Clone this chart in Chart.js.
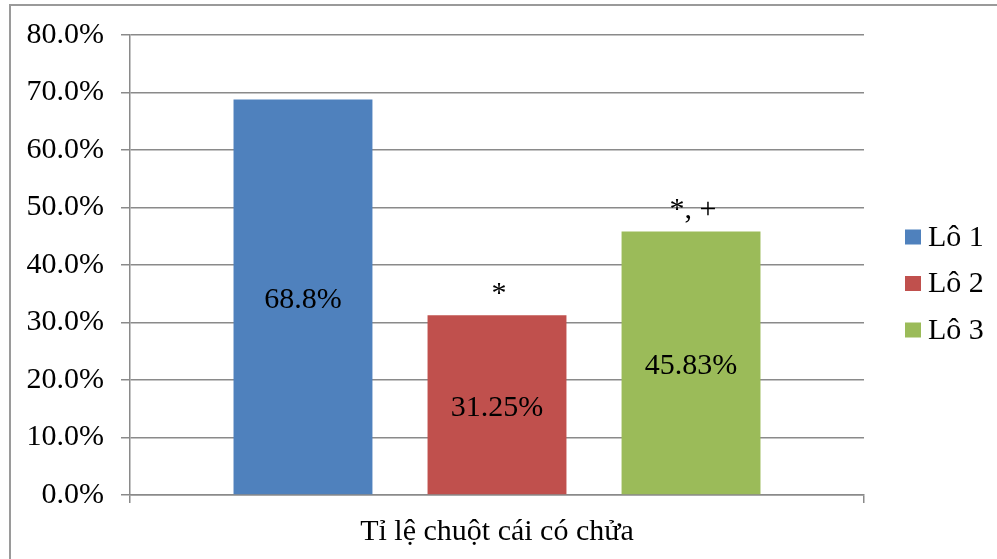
<!DOCTYPE html>
<html>
<head>
<meta charset="utf-8">
<title>Tỉ lệ chuột cái có chửa</title>
<script src="https://cdn.jsdelivr.net/npm/chart.js@4"></script>
<style>
  html, body { margin: 0; padding: 0; background: #fff; }
  #wrap { width: 997px; height: 559px; position: relative; }
</style>
</head>
<body>
<div id="wrap"><canvas id="c" width="997" height="559"></canvas></div>
<script>
// Category, groups and their rates (%)
const categories = ['Tỉ lệ chuột cái có chửa'];
const groups = ['Lô 1', 'Lô 2', 'Lô 3'];
const rates = [68.8, 31.25, 45.83];
// Significance marks written above each bar
const marks = ['', '*', '*, +'];
// Y axis ticks (%)
const yTicks = [0, 10, 20, 30, 40, 50, 60, 70, 80];

const colors = ['#4F81BD', '#C0504D', '#9BBB59'];
const FONT = '"Liberation Serif", "Times New Roman", serif';
const FS = 30;

const datasets = groups.map((g, i) => ({
  label: g,
  data: [rates[i]],
  backgroundColor: colors[i],
  borderWidth: 0,
  barPercentage: 0.716,
  categoryPercentage: 0.793
}));

// Outer frame of the chart
const framePlugin = {
  id: 'frame',
  beforeDraw(chart) {
    const ctx = chart.ctx;
    ctx.save();
    ctx.fillStyle = '#fff';
    ctx.fillRect(0, 0, chart.width, chart.height);
    ctx.strokeStyle = '#9a9a9a';
    ctx.lineWidth = 2;
    ctx.beginPath();
    ctx.moveTo(10, chart.height + 2);
    ctx.lineTo(10, 5);
    ctx.lineTo(chart.width + 2, 5);
    ctx.stroke();
    ctx.restore();
  }
};

// Value labels in the middle of each bar and marks above
const labelPlugin = {
  id: 'barLabels',
  afterDatasetsDraw(chart) {
    const ctx = chart.ctx;
    ctx.save();
    ctx.fillStyle = '#000';
    ctx.font = FS + 'px ' + FONT;
    ctx.textAlign = 'center';
    chart.data.datasets.forEach((ds, i) => {
      const bar = chart.getDatasetMeta(i).data[0];
      const v = ds.data[0];
      ctx.textBaseline = 'middle';
      ctx.fillText(String(v) + '%', bar.x, (bar.y + bar.base) / 2 + 3);
      if (marks[i]) {
        ctx.textBaseline = 'alphabetic';
        ctx.fillText(marks[i], bar.x + 2, bar.y - 13);
      }
    });
    ctx.restore();
  }
};

// Legend on the right side
const legendPlugin = {
  id: 'sideLegend',
  afterDraw(chart) {
    const ctx = chart.ctx;
    const area = chart.chartArea;
    ctx.save();
    ctx.font = FS + 'px ' + FONT;
    ctx.textBaseline = 'middle';
    ctx.textAlign = 'left';
    const x0 = area.right + 41;
    const y0 = 237;
    const step = 46.5;
    chart.data.datasets.forEach((ds, i) => {
      const y = y0 + i * step;
      ctx.fillStyle = ds.backgroundColor;
      ctx.fillRect(x0, y - 7.5, 16, 15);
      ctx.fillStyle = '#000';
      ctx.fillText(ds.label, x0 + 23, y + 1);
    });
    ctx.restore();
  }
};

new Chart(document.getElementById('c'), {
  type: 'bar',
  data: { labels: categories, datasets },
  plugins: [framePlugin, labelPlugin, legendPlugin],
  options: {
    responsive: false,
    animation: false,
    layout: { padding: { left: 10, right: 133, top: 34, bottom: 0 } },
    plugins: {
      legend: { display: false },
      tooltip: { enabled: false }
    },
    scales: {
      x: {
        grid: {
          offset: true,
          drawOnChartArea: false,
          drawTicks: true,
          tickLength: 8,
          color: '#8a8a8a',
          lineWidth: 1.5
        },
        border: { display: true, color: '#8a8a8a', width: 1.5 },
        ticks: {
          color: '#000',
          font: { family: FONT, size: FS },
          padding: 11
        },
        afterFit(scale) { scale.height = 64; }
      },
      y: {
        min: 0,
        max: 80,
        afterBuildTicks(scale) { scale.ticks = yTicks.map(v => ({ value: v })); },
        grid: {
          color: '#8a8a8a',
          lineWidth: 1.5,
          tickLength: 9
        },
        border: { display: true, color: '#8a8a8a', width: 1.5 },
        ticks: {
          color: '#000',
          font: { family: FONT, size: FS },
          padding: 17,
          callback: v => Number(v).toFixed(1) + '%'
        },
        afterFit(scale) { scale.width = 120; }
      }
    }
  }
});
</script>
</body>
</html>
